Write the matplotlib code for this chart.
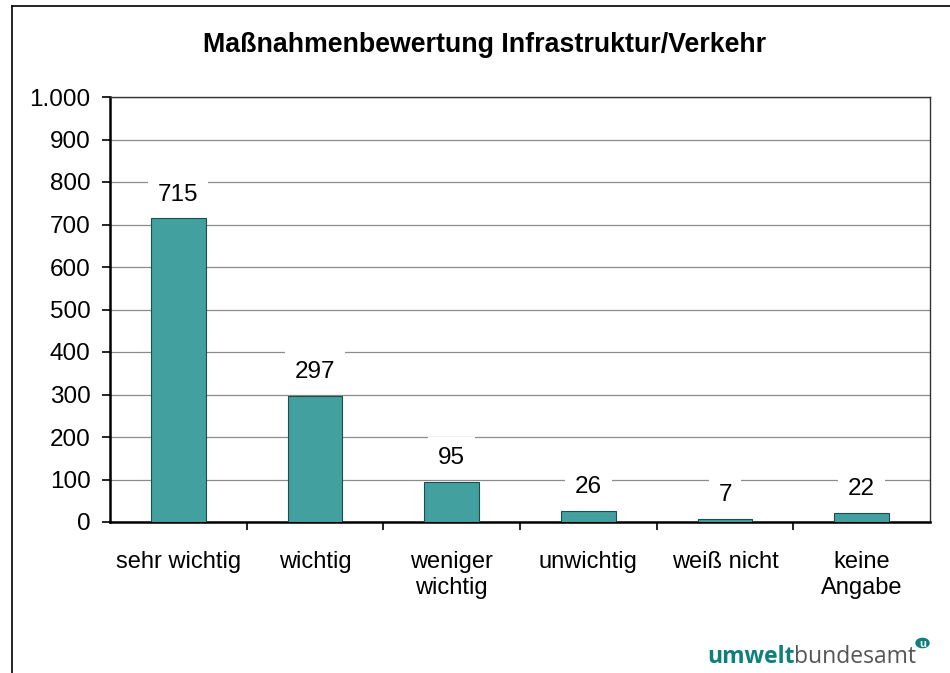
import matplotlib
matplotlib.use("Agg")
import matplotlib.pyplot as plt
from matplotlib.patches import Circle
from matplotlib.ticker import FuncFormatter, MultipleLocator

plt.rcParams['font.family'] = ['Liberation Sans', 'DejaVu Sans']

categories = ["sehr wichtig", "wichtig", "weniger\nwichtig", "unwichtig", "weiß nicht", "keine\nAngabe"]
values = [715, 297, 95, 26, 7, 22]
title = "Maßnahmenbewertung Infrastruktur/Verkehr"

bar_color = "#42A19F"
edge_color = "#1E4E4C"

fig = plt.figure(figsize=(9.5, 6.73), dpi=100)

# outer frame of the slide
fig.add_artist(plt.Line2D([12/950, 12/950], [0, 1 - 6/673], transform=fig.transFigure, color="black", lw=1.2))
fig.add_artist(plt.Line2D([12/950, 1], [1 - 6/673, 1 - 6/673], transform=fig.transFigure, color="black", lw=1.2))

ax = fig.add_axes([110/950, 1 - 522/673, 820/950, 425/673])
x = list(range(len(values)))
ax.bar(x, values, width=0.4, color=bar_color, edgecolor=edge_color, linewidth=0.8, zorder=3)

ax.set_xlim(-0.5, len(values) - 0.5)
ax.set_ylim(0, 1000)
ax.yaxis.set_major_locator(MultipleLocator(100))
ax.yaxis.set_major_formatter(FuncFormatter(lambda v, p: f"{int(v):,}".replace(",", ".")))
ax.grid(axis="y", color="#8c8c8c", lw=0.9, zorder=0)
ax.set_axisbelow(True)

ax.set_xticks([i + 0.5 for i in range(len(values) - 1)])
ax.set_xticklabels([])
ax.tick_params(axis="x", direction="out", length=6, width=1.2)
ax.tick_params(axis="y", direction="out", length=6, width=1.2, labelsize=17.5, pad=8)
for i, c in enumerate(categories):
    ax.text(i, -0.068, c, transform=ax.get_xaxis_transform(), ha="center", va="top",
            fontsize=17, linespacing=1.22)

for sp in ["left", "bottom"]:
    ax.spines[sp].set_linewidth(1.8)
for sp in ["top", "right"]:
    ax.spines[sp].set_linewidth(1.0)
    ax.spines[sp].set_color("#333333")

for i, v in enumerate(values):
    ax.annotate(str(v), (i, v), xytext=(0, 17), textcoords="offset points",
                ha="center", va="center", fontsize=17.5, zorder=4,
                bbox=dict(boxstyle="square,pad=0.4", fc="white", ec="none"))

fig.text(485/950, 1 - 45/673, title, ha="center", va="center", fontsize=19.3, fontweight="bold")

# logo
t1 = fig.text(707/950, 1 - 663/673, "umwelt", ha="left", va="baseline", fontsize=16.5,
              fontweight="bold", color="#0E7F7A", family=["Open Sans", "DejaVu Sans"])
fig.canvas.draw()
bb = t1.get_window_extent()
t2 = fig.text(bb.x1 / 950, 1 - 663/673, "bundesamt", ha="left", va="baseline", fontsize=16.5,
              color="#555555", family=["Open Sans", "DejaVu Sans"])
fig.canvas.draw()
bb2 = t2.get_window_extent()
cx, cy = bb2.x1 + 6, 673 - 643
fig.add_artist(Circle((cx / 950, cy / 673), 6.5 / 950, transform=fig.transFigure,
                      color="#0E7F7A"))
fig.text(cx / 950, cy / 673 - 0.001, "u", ha="center", va="center", fontsize=8, color="white",
         fontweight="bold")

fig.savefig("out.png", dpi=100)
